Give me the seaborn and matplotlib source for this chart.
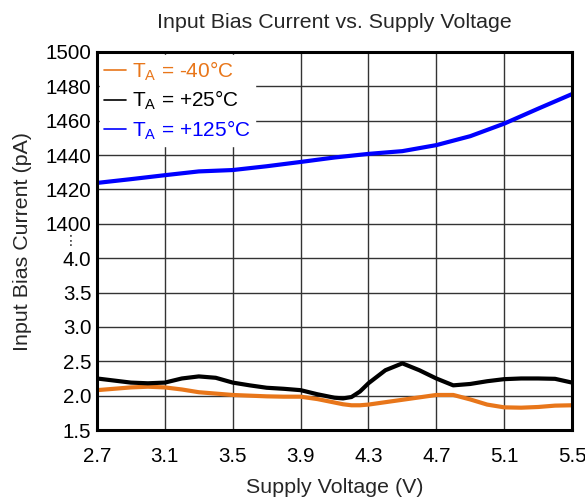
import numpy as np
import pandas as pd
import matplotlib
matplotlib.use('Agg')
import matplotlib.pyplot as plt
import seaborn as sns
from matplotlib.lines import Line2D

sns.set_style('white')
plt.rcParams['font.family'] = ['Liberation Sans', 'DejaVu Sans']
plt.rcParams['mathtext.fontset'] = 'custom'
plt.rcParams['mathtext.rm'] = 'Liberation Sans'

# data
v_low = [2.7, 2.9, 3.0, 3.1, 3.2, 3.3, 3.4, 3.5, 3.6, 3.7, 3.8, 3.9, 4.0, 4.1, 4.15,
         4.2, 4.25, 4.3, 4.4, 4.5, 4.6, 4.7, 4.8, 4.9, 5.0, 5.1, 5.2, 5.3, 5.4, 5.5]
i_m40 = [2.08, 2.12, 2.13, 2.12, 2.09, 2.05, 2.03, 2.01, 2.00, 1.99, 1.985, 1.985, 1.95, 1.90, 1.875,
         1.86, 1.86, 1.87, 1.905, 1.94, 1.975, 2.01, 2.01, 1.945, 1.87, 1.83, 1.825, 1.835, 1.855, 1.86]
i_25 = [2.25, 2.19, 2.18, 2.19, 2.25, 2.28, 2.26, 2.19, 2.15, 2.115, 2.10, 2.08, 2.02, 1.97, 1.96,
        1.98, 2.06, 2.18, 2.37, 2.47, 2.37, 2.25, 2.15, 2.17, 2.21, 2.24, 2.25, 2.25, 2.245, 2.19]
v_hot = [2.7, 2.9, 3.1, 3.3, 3.5, 3.7, 3.9, 4.1, 4.3, 4.5, 4.7, 4.9, 5.1, 5.3, 5.5]
i_125 = [1423.8, 1426.0, 1428.3, 1430.5, 1431.3, 1433.5, 1436.0, 1438.6, 1440.7, 1442.3,
         1445.8, 1451.0, 1458.3, 1467.0, 1475.5]

labels = [r'$\mathregular{T_A}$ = -40°C', r'$\mathregular{T_A}$ = +25°C', r'$\mathregular{T_A}$ = +125°C']
colors = ['#E8761A', '#000000', '#0000FF']
xticks = [2.7, 3.1, 3.5, 3.9, 4.3, 4.7, 5.1, 5.5]
yticks = [1.5, 2.0, 2.5, 3.0, 3.5, 4.0, 1400, 1420, 1440, 1460, 1480, 1500]
yticklabels = ['1.5', '2.0', '2.5', '3.0', '3.5', '4.0', '1400', '1420', '1440', '1460', '1480', '1500']

df = pd.concat([
    pd.DataFrame({'v': v_low, 'i': i_m40, 'T': labels[0]}),
    pd.DataFrame({'v': v_low, 'i': i_25, 'T': labels[1]}),
    pd.DataFrame({'v': v_hot, 'i': i_125, 'T': labels[2]}),
])


# broken axis: 1.5..4.0 on the lower part, 1400..1500 on the upper part
def fwd(y):
    y = np.asarray(y, dtype=float)
    return np.where(y >= 1400, 6 + (y - 1400) / 20,
                    np.where(y <= 4, (y - 1.5) / 0.5, 5 + (y - 4) / 1396))


def inv(p):
    p = np.asarray(p, dtype=float)
    return np.where(p >= 6, 1400 + (p - 6) * 20,
                    np.where(p <= 5, 1.5 + 0.5 * p, 4 + (p - 5) * 1396))


fig = plt.figure(figsize=(5.85, 4.98), dpi=100)
ax = fig.add_axes([0.1658, 0.1365, 0.8120, 0.7591])
ax.set_yscale('function', functions=(fwd, inv))

sns.lineplot(data=df, x='v', y='i', hue='T', palette=dict(zip(labels, colors)),
             linewidth=3, ax=ax, legend=False, sort=False,
             solid_joinstyle='round', solid_capstyle='butt')

ax.set_xlim(2.7, 5.5)
ax.set_ylim(1.5, 1500)
ax.set_xticks(xticks)
ax.set_xticklabels([f'{t:.1f}' for t in xticks])
ax.set_yticks(yticks)
ax.set_yticklabels(yticklabels)
ax.yaxis.set_minor_locator(matplotlib.ticker.NullLocator())
ax.tick_params(length=0, labelsize=14.8, colors='black', pad=4)
ax.tick_params(axis='x', pad=12)
ax.grid(True, color='#333333', linewidth=1)
for s in ax.spines.values():
    s.set_color('black')
    s.set_linewidth(2.2)

# vertical ellipsis between the two parts
ax.text(-0.055, 702, '⋮', transform=ax.get_yaxis_transform(), ha='center', va='center',
        fontsize=10, family=['DejaVu Sans'])

ax.set_title('Input Bias Current vs. Supply Voltage', fontsize=15.4, pad=17)
ax.set_xlabel('Supply Voltage (V)', fontsize=15.4, labelpad=9)
ax.set_ylabel('Input Bias Current (pA)', fontsize=15.4, labelpad=10)

handles = [Line2D([], [], color=c, lw=1.2) for c in colors]
leg = ax.legend(handles, labels, loc='upper left', fontsize=15, labelcolor=colors,
                frameon=True, fancybox=False, framealpha=1, edgecolor='white',
                handlelength=1.05, handletextpad=0.3, borderaxespad=0.15,
                labelspacing=0.3, borderpad=0.2)

fig.savefig('out.png', dpi=100)
